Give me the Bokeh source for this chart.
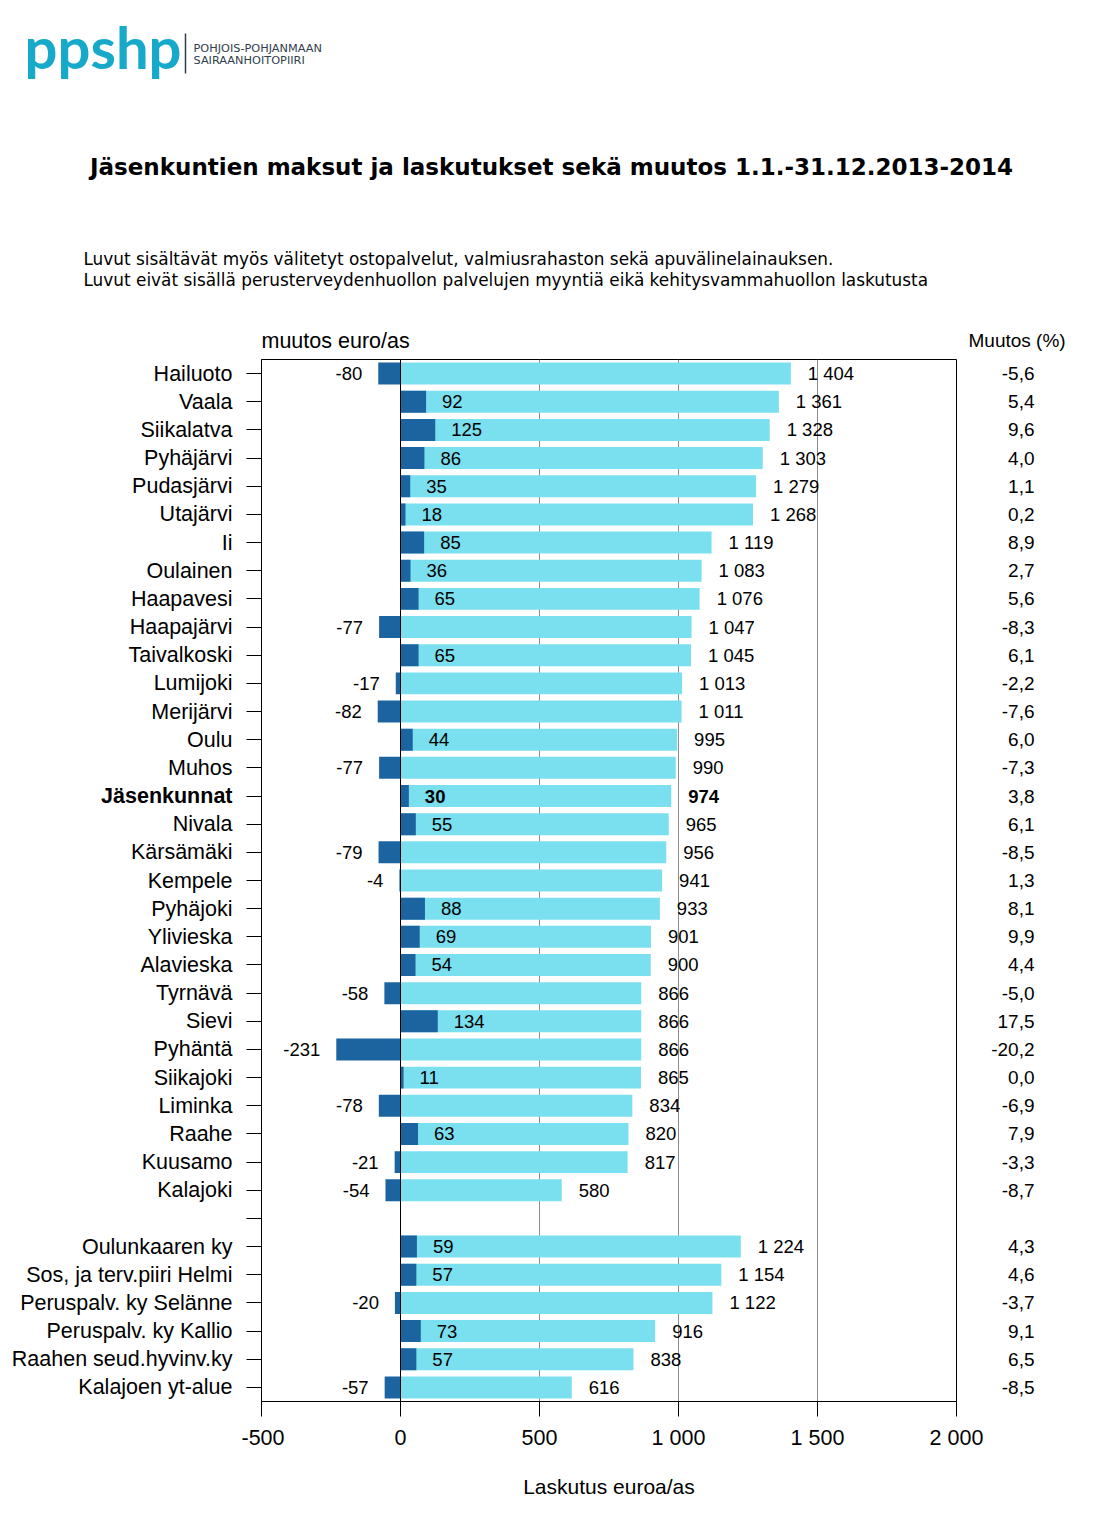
from bokeh.plotting import figure
from bokeh.layouts import column, row
from bokeh.models import Range1d, FixedTicker, ColumnDataSource, Span
from bokeh.core.properties import value, field
from bokeh.embed import file_html
from bokeh.resources import INLINE

# ---------------- data ----------------
names = ["Hailuoto", "Vaala", "Siikalatva", "Pyhäjärvi", "Pudasjärvi", "Utajärvi", "Ii",
         "Oulainen", "Haapavesi", "Haapajärvi", "Taivalkoski", "Lumijoki", "Merijärvi",
         "Oulu", "Muhos", "Jäsenkunnat", "Nivala", "Kärsämäki", "Kempele", "Pyhäjoki",
         "Ylivieska", "Alavieska", "Tyrnävä", "Sievi", "Pyhäntä", "Siikajoki", "Liminka",
         "Raahe", "Kuusamo", "Kalajoki", "",
         "Oulunkaaren ky", "Sos, ja terv.piiri Helmi", "Peruspalv. ky Selänne",
         "Peruspalv. ky Kallio", "Raahen seud.hyvinv.ky", "Kalajoen yt-alue"]
laskutus = [1404, 1361, 1328, 1303, 1279, 1268, 1119, 1083, 1076, 1047, 1045, 1013, 1011,
            995, 990, 974, 965, 956, 941, 933, 901, 900, 866, 866, 866, 865, 834, 820, 817,
            580, None, 1224, 1154, 1122, 916, 838, 616]
muutos = [-80, 92, 125, 86, 35, 18, 85, 36, 65, -77, 65, -17, -82, 44, -77, 30, 55, -79,
          -4, 88, 69, 54, -58, 134, -231, 11, -78, 63, -21, -54, None,
          59, 57, -20, 73, 57, -57]
muutos_pct = [-5.6, 5.4, 9.6, 4.0, 1.1, 0.2, 8.9, 2.7, 5.6, -8.3, 6.1, -2.2, -7.6, 6.0,
              -7.3, 3.8, 6.1, -8.5, 1.3, 8.1, 9.9, 4.4, -5.0, 17.5, -20.2, 0.0, -6.9, 7.9,
              -3.3, -8.7, None, 4.3, 4.6, -3.7, 9.1, 6.5, -8.5]
highlight = "Jäsenkunnat"
x_ticks = [-500, 0, 500, 1000, 1500, 2000]
x_tick_labels = ["-500", "0", "500", "1 000", "1 500", "2 000"]
grid_lines = [500, 1000, 1500]

title_text = "Jäsenkuntien maksut ja laskutukset sekä muutos 1.1.-31.12.2013-2014"
note_lines = ["Luvut sisältävät  myös välitetyt ostopalvelut, valmiusrahaston sekä apuvälinelainauksen.",
              "Luvut eivät sisällä perusterveydenhuollon palvelujen myyntiä eikä kehitysvammahuollon laskutusta"]

# ---------------- layout (page pixels) ----------------
PAGE_W = 1100
HEAD_H = 357
FL, FR, FT, FB = 261, 956, 359, 1401      # frame edges on the page
BOT = 114
TICK_BORDER = 20
RIGHT_BORDER = 29
LEFT_W = FL - TICK_BORDER
ROW_H = (FB - FT) + (FT - HEAD_H) + BOT
N = len(names)

CYAN = "#7ADFEE"
DARK = "#1C64A0"
FONT = "Liberation Sans"
LOGO = "#17A9C9"


def fmt_thousands(v):
    return f"{v:,}".replace(",", " ")


def bare(fig):
    fig.axis.visible = False
    fig.grid.visible = False
    fig.outline_line_color = None
    fig.background_fill_color = "white"
    fig.border_fill_color = "white"
    return fig


rows = [i for i in range(N) if laskutus[i] is not None]
src = ColumnDataSource(dict(
    y=rows,
    name=[names[i] for i in rows],
    lask=[laskutus[i] for i in rows],
    muut=[muutos[i] for i in rows],
    lask_txt=[fmt_thousands(laskutus[i]) for i in rows],
    muut_txt=[str(muutos[i]) for i in rows],
    muut_align=["left" if muutos[i] >= 0 else "right" for i in rows],
    muut_off=[16 if muutos[i] >= 0 else -16 for i in rows],
    style=["bold" if names[i] == highlight else "normal" for i in rows],
    pct_txt=[f"{muutos_pct[i]:.1f}".replace(".", ",") for i in rows],
))

y_range = Range1d(N - 0.5, -0.5)

# ---------------- header ----------------
head = bare(figure(width=PAGE_W, height=HEAD_H, output_backend="svg", toolbar_location=None,
                   x_range=Range1d(0, PAGE_W), y_range=Range1d(HEAD_H, 0),
                   min_border=0, min_border_left=0, min_border_right=0,
                   min_border_top=0, min_border_bottom=0))
head.text(x=[24], y=[46], text=["ppshp"], text_font=value("Lato"), text_font_size="58px",
          text_font_style="bold", text_color=LOGO, text_baseline="alphabetic")
head.segment(x0=[185], y0=[33], x1=[185], y1=[73], line_color="#2f3d4c", line_width=1.5)
head.text(x=[193, 193], y=[48, 60], text=["POHJOIS-POHJANMAAN", "SAIRAANHOITOPIIRI"],
          text_font=value("DejaVu Sans"), text_font_size="11.3px", text_color="#2f3d4c",
          text_baseline="middle")
head.text(x=[551], y=[166], text=[title_text], text_font=value("DejaVu Sans"),
          text_font_size="23px", text_font_style="bold", text_color="black",
          text_align="center", text_baseline="middle")
head.text(x=[83, 83], y=[258, 279], text=note_lines, text_font=value("DejaVu Sans"),
          text_font_size="16.9px", text_color="black", text_baseline="middle")
head.text(x=[261], y=[340], text=["muutos euro/as"], text_font=value(FONT),
          text_font_size="21.5px", text_color="black", text_baseline="middle")
head.text(x=[968], y=[340], text=["Muutos (%)"], text_font=value(FONT),
          text_font_size="19px", text_color="black", text_baseline="middle")

# ---------------- left: category names ----------------
left = bare(figure(width=LEFT_W, height=ROW_H, output_backend="svg", toolbar_location=None,
                   x_range=Range1d(0, LEFT_W), y_range=y_range,
                   min_border_left=0, min_border_right=0,
                   min_border_top=FT - HEAD_H, min_border_bottom=BOT))
left.text(x=LEFT_W - 9, y="y", text="name", source=src, text_align="right",
          text_baseline="middle", text_font=value(FONT), text_font_size="21.5px",
          text_font_style=field("style"), text_color="black")

# ---------------- main chart ----------------
p = figure(width=TICK_BORDER + (FR - FL) + RIGHT_BORDER, height=ROW_H, output_backend="svg",
           toolbar_location=None, x_range=Range1d(x_ticks[0], x_ticks[-1]), y_range=y_range,
           min_border_left=TICK_BORDER, min_border_right=RIGHT_BORDER,
           min_border_top=FT - HEAD_H, min_border_bottom=BOT)
p.background_fill_color = "white"
p.border_fill_color = "white"
p.outline_line_color = "black"
p.outline_line_width = 1
p.outline_line_alpha = 1

p.xgrid.ticker = FixedTicker(ticks=grid_lines)
p.xgrid.grid_line_color = "#8c8c8c"
p.xgrid.grid_line_width = 1
p.ygrid.visible = False

p.hbar(y="y", left=0, right="lask", height=0.78, source=src,
       fill_color=CYAN, line_color=None)
p.hbar(y="y", left=0, right="muut", height=0.78, source=src,
       fill_color=DARK, line_color=None)
p.add_layout(Span(location=0, dimension="height", line_color="black", line_width=1))

p.text(x="muut", y="y", text="muut_txt", source=src, text_align=field("muut_align"),
       x_offset=field("muut_off"), text_baseline="middle",
       text_font=value(FONT), text_font_size="18.5px", text_color="black",
       text_font_style=field("style"))
p.text(x="lask", y="y", text="lask_txt", source=src, text_align="left",
       x_offset=17, text_baseline="middle",
       text_font=value(FONT), text_font_size="18.5px", text_color="black",
       text_font_style=field("style"))

xa = p.xaxis[0]
xa.ticker = FixedTicker(ticks=x_ticks)
xa.major_label_overrides = {t: l for t, l in zip(x_ticks, x_tick_labels)}
xa.major_tick_out = 15
xa.major_tick_in = 0
xa.minor_tick_line_color = None
xa.major_label_standoff = 9
xa.major_label_text_font = FONT
xa.major_label_text_font_size = "21.5px"
xa.major_label_text_color = "black"
xa.axis_label = "Laskutus euroa/as"
xa.axis_label_text_font = FONT
xa.axis_label_text_font_size = "21px"
xa.axis_label_text_font_style = "normal"
xa.axis_label_text_color = "black"
xa.axis_label_standoff = 22
xa.axis_line_color = "black"

ya = p.yaxis[0]
ya.ticker = FixedTicker(ticks=list(range(N)))
ya.major_label_overrides = {i: "" for i in range(N)}
ya.major_tick_out = 15
ya.major_tick_in = 0
ya.minor_tick_line_color = None
ya.major_label_standoff = 0
ya.major_label_text_font_size = "1px"
ya.axis_line_color = "black"

# ---------------- right: percent change ----------------
RX0 = FR + RIGHT_BORDER
right = bare(figure(width=PAGE_W - RX0, height=ROW_H, output_backend="svg",
                    toolbar_location=None, x_range=Range1d(RX0, PAGE_W), y_range=y_range,
                    min_border_left=0, min_border_right=0,
                    min_border_top=FT - HEAD_H, min_border_bottom=BOT))
right.text(x=1034, y="y", text="pct_txt", source=src, text_align="right",
           text_baseline="middle", text_font=value(FONT), text_font_size="19px",
           text_color="black")

layout = column(head, row(left, p, right, spacing=0), spacing=0)
open("out.html", "w").write(file_html(layout, INLINE))
